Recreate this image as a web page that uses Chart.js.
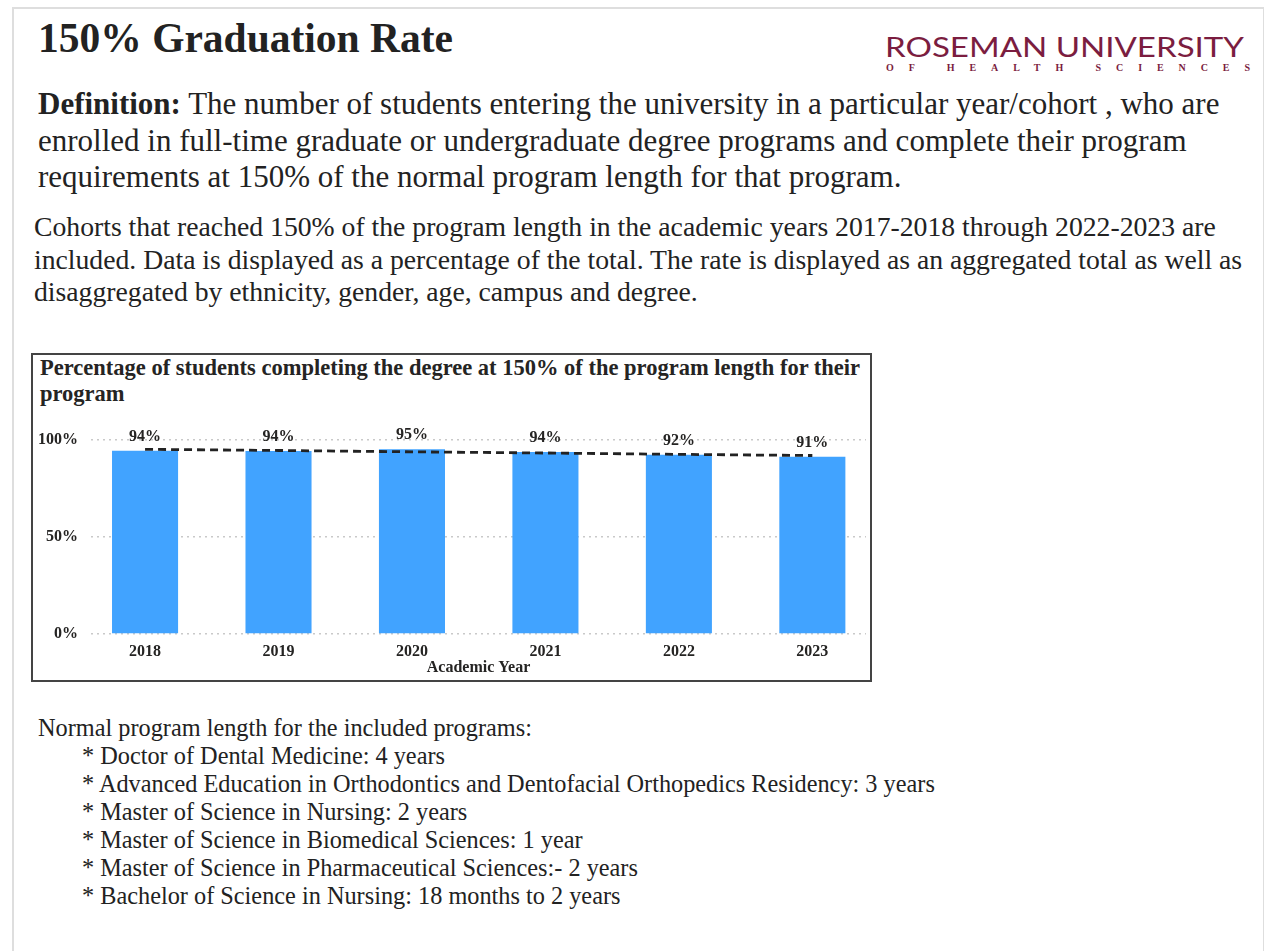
<!DOCTYPE html>
<html>
<head>
<meta charset="utf-8">
<script src="https://cdn.jsdelivr.net/npm/chart.js@4.4.1/dist/chart.umd.min.js"></script>
<style>
  body { margin: 0; background: #fff; font-family: "Liberation Serif", "Times New Roman", serif; color: #222; }
  .frame { position: absolute; left: 12px; top: 7px; width: 1249px; height: 980px; border: 2px solid #dedede; border-bottom: none; }
  .abs { position: absolute; margin: 0; }
  h1.abs { left: 38px; top: 14px; font-size: 41.5px; line-height: 48px; font-weight: bold; color: #222; }
  #definition { left: 38px; top: 86px; width: 1215px; font-size: 31px; line-height: 36.5px; }
  #cohorts { left: 34px; top: 211px; width: 1225px; font-size: 27.7px; line-height: 32.5px; }
  #programs { left: 38px; top: 714px; font-size: 24.3px; line-height: 28px; }
  #programs div { padding-left: 44px; }
  #chartBox { left: 31px; top: 353px; width: 837px; height: 325px; border: 2px solid #444; }
  #chartTitle { left: 40px; top: 355px; font-size: 22.5px; line-height: 26px; font-weight: bold; color: #252423; }
  #chartWrap { left: 33px; top: 415px; width: 837px; height: 265px; }
  #logo { left: 880px; top: 25px; }
</style>
</head>
<body>
<div class="frame"></div>

<h1 class="abs">150% Graduation Rate</h1>

<svg id="logo" class="abs" width="380" height="55" viewBox="0 0 380 55">
  <text x="5" y="31.7" font-family="Lato, 'Open Sans', sans-serif" font-size="26" fill="#7b1d40"
        textLength="359" lengthAdjust="spacingAndGlyphs">ROSEMAN UNIVERSITY</text>
  <text x="6" y="45.5" font-family="'Liberation Serif', serif" font-weight="bold" font-size="10" fill="#7b1d40"
        textLength="364" lengthAdjust="spacing">OF HEALTH SCIENCES</text>
</svg>

<p id="definition" class="abs"><b>Definition:</b> The number of students entering the university in a particular year/cohort , who are enrolled in full-time graduate or undergraduate degree programs and complete their program requirements at 150% of the normal program length for that program.</p>

<p id="cohorts" class="abs">Cohorts that reached 150% of the program length in the academic years 2017-2018 through 2022-2023 are included. Data is displayed as a percentage of the total. The rate is displayed as an aggregated total as well as disaggregated by ethnicity, gender, age, campus and degree.</p>

<div id="chartBox" class="abs"></div>
<div id="chartTitle" class="abs">Percentage of students completing the degree at 150% of the program length for their<br>program</div>
<div id="chartWrap" class="abs"><canvas id="gradChart"></canvas></div>

<div id="programs" class="abs">
  Normal program length for the included programs:
  <div>* Doctor of Dental Medicine: 4 years</div>
  <div>* Advanced Education in Orthodontics and Dentofacial Orthopedics Residency: 3 years</div>
  <div>* Master of Science in Nursing: 2 years</div>
  <div>* Master of Science in Biomedical Sciences: 1 year</div>
  <div>* Master of Science in Pharmaceutical Sciences:- 2 years</div>
  <div>* Bachelor of Science in Nursing: 18 months to 2 years</div>
</div>

<script>
const years = ['2018', '2019', '2020', '2021', '2022', '2023'];
const rates = [94.4, 94.3, 95.2, 93.8, 92.4, 91.4];
const trend = [95.2, 94.6, 93.9, 93.3, 92.6, 92.0];
const yTicks = [0, 50, 100];

const FONT = '"Liberation Serif", "Times New Roman", serif';
const TEXT = '#252423';

// draws the "94%" labels over each bar
const barLabels = {
  id: 'barLabels',
  afterDatasetsDraw(chart) {
    const meta = chart.getDatasetMeta(1);
    const ctx = chart.ctx;
    ctx.save();
    ctx.font = 'bold 16px ' + FONT;
    ctx.fillStyle = TEXT;
    ctx.textAlign = 'center';
    ctx.textBaseline = 'alphabetic';
    meta.data.forEach((bar, i) => {
      ctx.fillText(Math.round(rates[i]) + '%', bar.x, bar.y - 10);
    });
    ctx.restore();
  }
};

function createChart(canvasId) {
  const ctx = document.getElementById(canvasId).getContext('2d');
  const first = Number(years[0]), last = Number(years[years.length - 1]);
  return new Chart(ctx, {
    data: {
      labels: years,
      datasets: [{
        type: 'line',
        label: 'Trend',
        data: trend,
        borderColor: '#222',
        borderWidth: 2.8,
        borderDash: [8, 5],
        pointRadius: 0,
        tension: 0,
        order: 0
      }, {
        type: 'bar',
        label: '150% Graduation Rate',
        data: rates,
        backgroundColor: '#41a3ff',
        borderWidth: 0,
        categoryPercentage: 1,
        barPercentage: 0.495,
        order: 1
      }]
    },
    options: {
      responsive: true,
      maintainAspectRatio: false,
      animation: false,
      layout: { padding: { top: 25, right: 4, left: 0, bottom: 0 } },
      plugins: {
        legend: { display: false },
        tooltip: { enabled: false }
      },
      scales: {
        x: {
          type: 'linear',
          offset: false,
          min: first - 0.405,
          max: last + 0.402,
          grid: { display: false },
          border: { display: false },
          afterBuildTicks: s => { s.ticks = years.map(y => ({ value: Number(y) })); },
          afterFit: s => { s.height = 46; },
          ticks: {
            color: TEXT,
            font: { family: FONT, size: 16, weight: 'bold' },
            padding: 0,
            maxRotation: 0,
            callback: v => String(v)
          },
          title: {
            display: true,
            text: 'Academic Year',
            color: TEXT,
            font: { family: FONT, size: 16, weight: 'bold' },
            padding: { top: 0, bottom: 3 }
          }
        },
        y: {
          min: 0,
          max: 100,
          afterBuildTicks: s => { s.ticks = yTicks.map(v => ({ value: v })); },
          afterFit: s => { s.width = 58; },
          grid: { color: '#c9c9c9', lineWidth: 1.5, drawTicks: false },
          border: { display: false, dash: [2, 4] },
          ticks: {
            color: TEXT,
            font: { family: FONT, size: 16, weight: 'bold' },
            padding: 13,
            callback: v => v + '%'
          }
        }
      }
    },
    plugins: [barLabels]
  });
}

createChart('gradChart');
</script>
</body>
</html>
